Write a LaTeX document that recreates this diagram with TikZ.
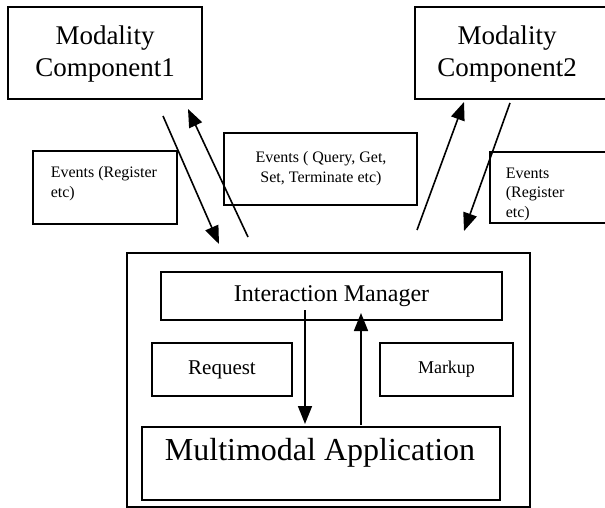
\documentclass[tikz,border=0pt]{standalone}
\usepackage{fontspec}
\setmainfont{Liberation Serif}
\usetikzlibrary{arrows.meta}

\begin{document}
\begin{tikzpicture}[x=1pt,y=-1pt,line width=1.6pt,->,>={Triangle[length=18pt,width=14pt]}]
  \tikzstyle{box}=[draw,line width=1.7pt,inner sep=0pt]
  \tikzstyle{big}=[font=\fontsize{27}{32}\selectfont,align=center,inner sep=0pt]
  \tikzstyle{small}=[font=\fontsize{16}{19.5}\selectfont,inner sep=0pt]
  \useasboundingbox (0,0) rectangle (605,508);
  \clip (0,0) rectangle (605,508);

  \node[box,minimum width=194,minimum height=92] (MC1) at (105,53) {};
  \node[box,minimum width=200,minimum height=92,anchor=west] (MC2) at (414,53) {};
  \node[big] (MC1t) at (105,54) {Modality\\Component1};
  \node[big] (MC2t) at (507,54) {Modality\\Component2};

  \node[box,minimum width=144,minimum height=73] (EV1) at (105,187.5) {};
  \node[box,minimum width=193,minimum height=72] (EV2) at (320.5,169) {};
  \node[box,minimum width=130,minimum height=71,anchor=west] (EV3) at (489,187.5) {};
  \node[small,align=left,anchor=north west] (EV1t) at (50,166) {Events (Register\\etc)};
  \node[small,align=center,anchor=north] (EV2t) at (321,151) {Events ( Query, Get,\\Set, Terminate etc)};
  \node[small,align=left,anchor=north west] (EV3t) at (505,167) {Events\\(Register\\etc)};

  \node[box,minimum width=403,minimum height=254] (IMbox) at (328.5,380) {};
  \node[box,minimum width=341,minimum height=48,font=\fontsize{24}{28}\selectfont] (IM) at (331.5,296) {Interaction Manager};
  \node[box,minimum width=140,minimum height=53,font=\fontsize{21}{25}\selectfont] (REQ) at (222,369.5) {Request};
  \node[box,minimum width=133,minimum height=53,font=\fontsize{18}{22}\selectfont] (MRK) at (446.5,369.5) {Markup};
  \node[box,minimum width=358,minimum height=73] (MA) at (321,463.5) {};
  \node[inner sep=0pt,font=\fontsize{32}{38}\selectfont] (MAt) at (320,453) {Multimodal Application};

  \coordinate (a1) at (163,116);
  \coordinate (a2) at (219,244);
  \coordinate (b1) at (248,237);
  \coordinate (b2) at (188,109);
  \coordinate (c1) at (417,230);
  \coordinate (c2) at (464,102);
  \coordinate (d1) at (510,103);
  \coordinate (d2) at (464,231);
  \coordinate (e1) at (305,310);
  \coordinate (e2) at (305,424);
  \coordinate (f1) at (361,425);
  \coordinate (f2) at (361,313);

  \draw (a1) -- (a2);
  \draw (b1) -- (b2);
  \draw (c1) -- (c2);
  \draw (d1) -- (d2);
  \draw (e1) -- (e2);
  \draw (f1) -- (f2);
\end{tikzpicture}
\end{document}
